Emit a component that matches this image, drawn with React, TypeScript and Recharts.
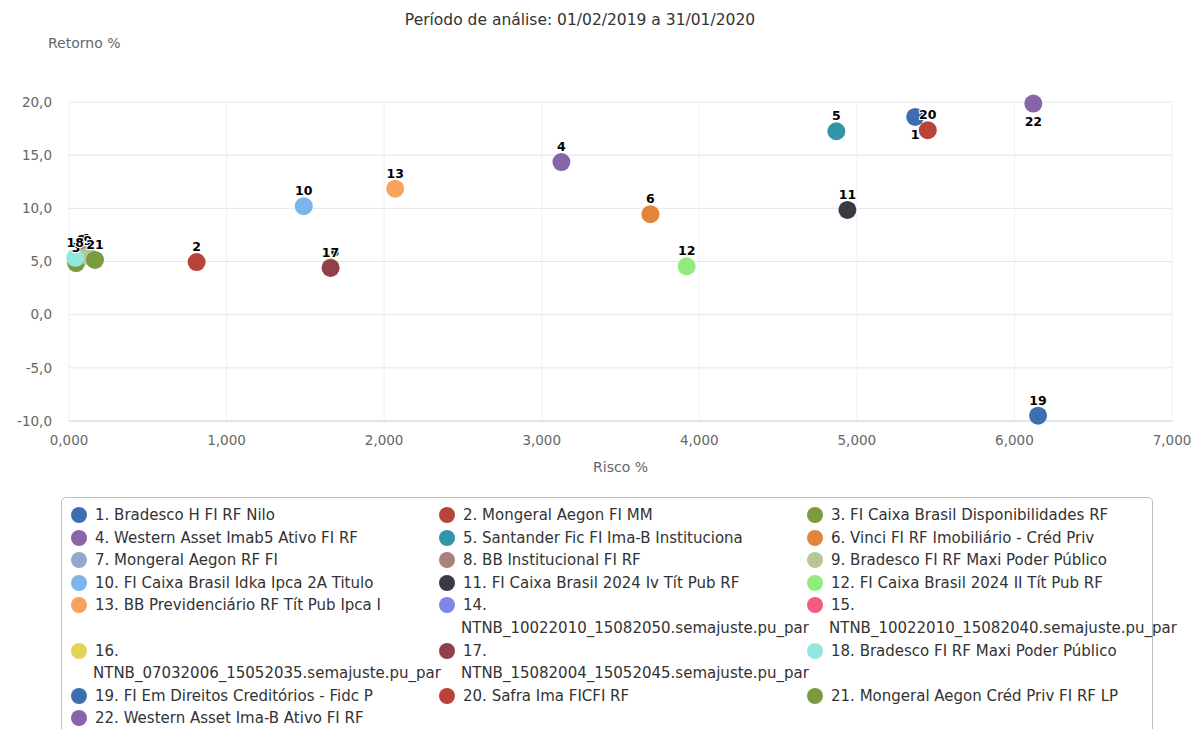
import React from 'react'
import { ScatterChart, Scatter, XAxis, YAxis, CartesianGrid } from 'recharts'

const fundNames = [
  'Bradesco H FI RF Nilo',
  'Mongeral Aegon FI MM',
  'FI Caixa Brasil Disponibilidades RF',
  'Western Asset Imab5 Ativo FI RF',
  'Santander Fic FI Ima-B Instituciona',
  'Vinci FI RF Imobiliário - Créd Priv',
  'Mongeral Aegon RF FI',
  'BB Institucional FI RF',
  'Bradesco FI RF Maxi Poder Público',
  'FI Caixa Brasil Idka Ipca 2A Titulo',
  'FI Caixa Brasil 2024 Iv Tít Pub RF',
  'FI Caixa Brasil 2024 II Tít Pub RF',
  'BB Previdenciário RF Tít Pub Ipca I',
  'NTNB_10022010_15082050.semajuste.pu_par',
  'NTNB_10022010_15082040.semajuste.pu_par',
  'NTNB_07032006_15052035.semajuste.pu_par',
  'NTNB_15082004_15052045.semajuste.pu_par',
  'Bradesco FI RF Maxi Poder Público',
  'FI Em Direitos Creditórios - Fidc P',
  'Safra Ima FICFI RF',
  'Mongeral Aegon Créd Priv FI RF LP',
  'Western Asset Ima-B Ativo FI RF',
]

const fundColors = [
  '#3d6fb0', '#b9433b', '#7a9c3e', '#8865a6', '#3196a8', '#e0853a',
  '#90a9cf', '#a8827d', '#b5c797', '#7cb5ec', '#3a3b42', '#90ed7d',
  '#f7a35c', '#8085e9', '#f15c80', '#e4d354', '#91404a', '#91e8e1',
  '#3d6fb0', '#b9433b', '#7a9c3e', '#8865a6',
]

// risco % (x) e retorno % (y); null = sem ponto no gráfico
const riskValues: (number | null)[] = [
  5.37, 0.81, 0.045, 3.125, 4.87, 3.69, 0.1, 0.08, 0.12, 1.49, 4.94,
  3.92, 2.07, null, null, 1.66, 1.66, 0.04, 6.15, 5.45, 0.165, 6.12,
]
const returnValues: (number | null)[] = [
  18.6, 4.95, 4.85, 14.35, 17.25, 9.45, 5.7, 5.6, 5.5, 10.2, 9.85,
  4.55, 11.85, null, null, 4.45, 4.4, 5.35, -9.5, 17.35, 5.15, 19.85,
]

const xTicks = [0, 1, 2, 3, 4, 5, 6, 7]
const yTicks = [-10, -5, 0, 5, 10, 15, 20]

const font = '"DejaVu Sans", Verdana, sans-serif'

const points = fundNames.map((name, i) => ({
  x: riskValues[i],
  y: returnValues[i],
  label: String(i + 1),
  name,
  color: fundColors[i],
}))

const Dot = (props: any) => {
  const { cx, cy, payload } = props
  if (cx == null || cy == null) return null
  return <circle cx={cx} cy={cy} r={9} fill={payload.color} />
}

// rótulo acima do ponto; perto do topo do gráfico vai para baixo
const DataLabel = (props: any) => {
  const { cx, cy, payload } = props
  if (cx == null || cy == null) return null
  const below = payload.y > 18
  return (
    <text
      x={cx}
      y={below ? cy + 22 : cy - 11}
      textAnchor="middle"
      fontFamily={font}
      fontSize={12.5}
      fontWeight="bold"
      fill="#000"
      stroke="#fff"
      strokeWidth={2}
      paintOrder="stroke"
    >
      {payload.label}
    </text>
  )
}

function LegendBox() {
  return (
    <div
      style={{
        position: 'absolute',
        left: 61,
        top: 497,
        width: 1092,
        height: 250,
        border: '1px solid #bdbdbd',
        borderRadius: 5,
        boxSizing: 'border-box',
        fontFamily: font,
        fontSize: 15,
        color: '#333',
      }}
    >
      <div
        style={{
          position: 'absolute',
          left: 8,
          top: 6,
          display: 'grid',
          gridTemplateColumns: '368px 368px 368px',
          lineHeight: '22.6px',
        }}
      >
        {points.map((p, i) => {
          const wrap = !p.name.includes(' ')
          return (
            <div key={i} style={{ position: 'relative', paddingLeft: 25, whiteSpace: 'nowrap' }}>
              <span
                style={{
                  position: 'absolute',
                  left: 1,
                  top: 3,
                  width: 16,
                  height: 16,
                  borderRadius: '50%',
                  background: p.color,
                }}
              />
              {wrap ? (
                <>
                  <div>{p.label}.</div>
                  <div style={{ marginLeft: -2 }}>{p.name}</div>
                </>
              ) : (
                <div>
                  {p.label}. {p.name}
                </div>
              )}
            </div>
          )
        })}
      </div>
    </div>
  )
}

export default function App() {
  const fmtX = (v: number) => v.toFixed(3).replace('.', ',')
  const fmtY = (v: number) => v.toFixed(1).replace('.', ',')

  return (
    <div style={{ position: 'absolute', left: 0, top: 0, width: 1195, height: 729, background: '#fff', overflow: 'hidden' }}>
      <div
        style={{
          position: 'absolute',
          left: 0,
          width: 1160,
          top: 11,
          textAlign: 'center',
          fontFamily: font,
          fontSize: 15.5,
          color: '#333',
        }}
      >
        Período de análise: 01/02/2019 a 31/01/2020
      </div>
      <div style={{ position: 'absolute', left: 48, top: 35, fontFamily: font, fontSize: 14, color: '#666' }}>
        Retorno %
      </div>
      <div
        style={{
          position: 'absolute',
          left: 69,
          width: 1103,
          top: 459,
          textAlign: 'center',
          fontFamily: font,
          fontSize: 14,
          color: '#666',
        }}
      >
        Risco %
      </div>

      <div style={{ position: 'absolute', left: 0, top: 0 }}>
        <ScatterChart width={1195} height={490} margin={{ top: 102, right: 23, bottom: 39, left: 0 }}>
          <CartesianGrid horizontal={false} vertical stroke="#f1f1f1" />
          <CartesianGrid horizontal vertical={false} stroke="#e6e6e6" />
          <XAxis
            type="number"
            dataKey="x"
            domain={[0, 7]}
            ticks={xTicks}
            tickFormatter={fmtX}
            height={30}
            tickLine={false}
            tickMargin={8}
            axisLine={{ stroke: '#ccd6eb' }}
            tick={{ fill: '#666', fontSize: 13.5, fontFamily: font }}
          />
          <YAxis
            type="number"
            dataKey="y"
            domain={[-10, 20]}
            ticks={yTicks}
            tickFormatter={fmtY}
            width={69}
            tickLine={false}
            axisLine={false}
            tickMargin={11}
            tick={{ fill: '#666', fontSize: 13.5, fontFamily: font }}
          />
          {points.map((p, i) => (
            <Scatter
              key={i}
              name={p.name}
              data={p.x == null ? [] : [p]}
              fill={p.color}
              shape={Dot}
              isAnimationActive={false}
            />
          ))}
          <Scatter
            name="labels"
            data={points.filter(p => p.x != null)}
            shape={DataLabel}
            isAnimationActive={false}
          />
        </ScatterChart>
      </div>

      <LegendBox />
    </div>
  )
}
